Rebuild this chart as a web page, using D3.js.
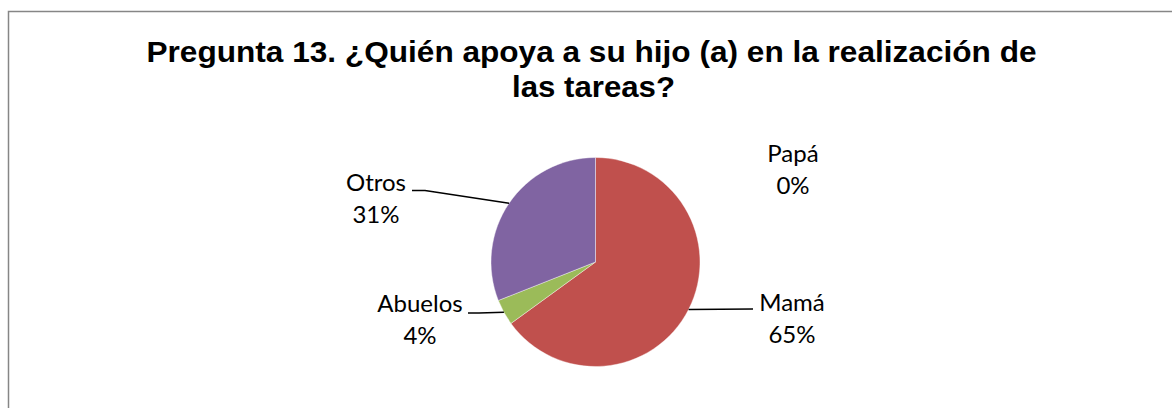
<!DOCTYPE html>
<html>
<head>
<meta charset="utf-8">
<script src="https://cdn.jsdelivr.net/npm/d3@7"></script>
<style>
  html, body { margin: 0; padding: 0; background: #fff; }
  svg { display: block; }
</style>
</head>
<body>
<svg id="chart" width="1172" height="408"></svg>
<script>
//-----------------------------------------------------------------------------
// DATA
var categories = ["Papá", "Mamá", "Abuelos", "Otros"];
var values     = [0, 65, 4, 31];
var pctLabels  = ["0%", "65%", "4%", "31%"];
var colors     = ["#4F81BD", "#C0504D", "#9BBB59", "#8064A2"];
var titleLines = ["Pregunta 13. ¿Quién apoya a su hijo (a) en la realización de", "las tareas?"];
//-----------------------------------------------------------------------------
// LAYOUT
var cx = 595.5, cy = 262, radius = 104.5;
var titleWidths = [890, 163];
// label anchor (text centre x, first baseline y) and leader elbow per slice
var labelPos = {
  "Papá"   : {x: 793, y: 162, line: null},
  "Mamá"   : {x: 792, y: 311, line: [[753, 309]]},
  "Abuelos": {x: 420, y: 312, line: [[468, 313], [479, 313]]},
  "Otros"  : {x: 376, y: 191, line: [[412, 190.5], [425, 190.5]]}
};
//-----------------------------------------------------------------------------
var svg = d3.select("#chart");

svg.append("rect")
   .attr("x", 8.5).attr("y", 11.5)
   .attr("width", 1200).attr("height", 420)
   .attr("fill", "#fff")
   .attr("stroke", "#868686")
   .attr("stroke-width", 1.5);

svg.append("g").selectAll("text")
   .data(titleLines)
   .join("text")
   .attr("x", function(d, i){ return i === 0 ? 591.5 : 593.5; })
   .attr("y", function(d, i){ return 62 + i * 35; })
   .attr("text-anchor", "middle")
   .attr("font-family", "'Liberation Sans', Arial, sans-serif")
   .attr("font-weight", "bold")
   .attr("font-size", 30)
   .attr("textLength", function(d, i){ return titleWidths[i]; })
   .attr("lengthAdjust", "spacingAndGlyphs")
   .attr("fill", "#000")
   .text(function(d){ return d; });

var rows = categories.map(function(c, i){
  return {name: c, value: values[i], pct: pctLabels[i], color: colors[i]};
});

var pie = d3.pie().sort(null).value(function(d){ return d.value; });
var arc = d3.arc().innerRadius(0).outerRadius(radius);
var arcs = pie(rows);

var g = svg.append("g").attr("transform", "translate(" + cx + "," + cy + ")");

g.selectAll("path")
 .data(arcs.filter(function(d){ return d.value > 0; }))
 .join("path")
 .attr("d", arc)
 .attr("fill", function(d){ return d.data.color; })
 .attr("stroke", "#fff")
 .attr("stroke-width", 0.4);

// leader lines: from slice mid-angle on the rim to the label elbow
arcs.forEach(function(d){
  var lp = labelPos[d.data.name];
  if (!lp.line) return;
  var mid = (d.startAngle + d.endAngle) / 2;
  var rim = [cx + radius * Math.sin(mid), cy - radius * Math.cos(mid)];
  var pts = lp.line.concat([rim]);
  svg.append("path")
     .attr("d", d3.line()(pts))
     .attr("fill", "none")
     .attr("stroke", "#000")
     .attr("stroke-width", 1.5);
});

var labels = svg.append("g").selectAll("text")
   .data(arcs)
   .join("text")
   .attr("text-anchor", "middle")
   .attr("font-family", "Lato, 'Open Sans', sans-serif")
   .attr("font-size", 24)
   .attr("fill", "#000");

labels.append("tspan")
   .attr("x", function(d){ return labelPos[d.data.name].x; })
   .attr("y", function(d){ return labelPos[d.data.name].y; })
   .text(function(d){ return d.data.name; });
labels.append("tspan")
   .attr("x", function(d){ return labelPos[d.data.name].x; })
   .attr("y", function(d){ return labelPos[d.data.name].y + 32; })
   .text(function(d){ return d.data.pct; });
</script>
</body>
</html>
